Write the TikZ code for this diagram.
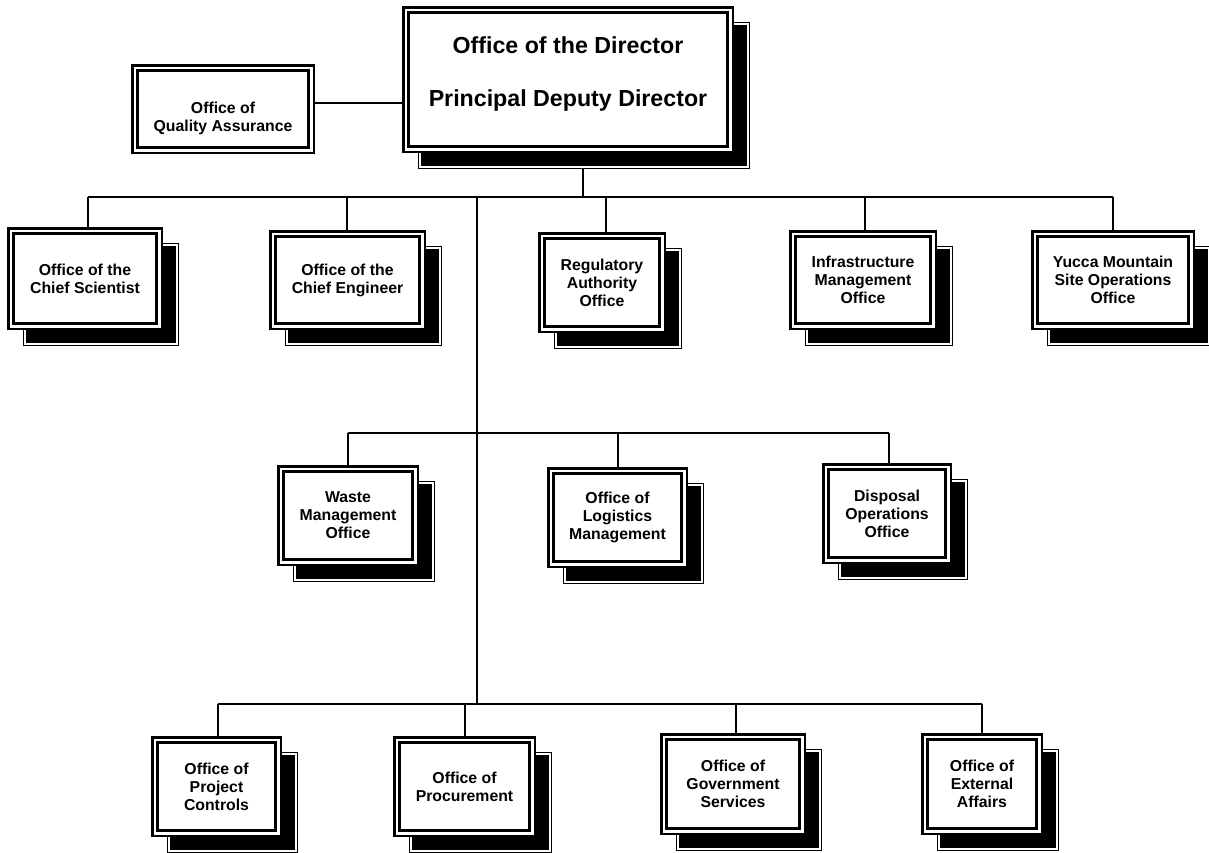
\documentclass[tikz,border=0pt]{standalone}
\usepackage{fontspec}
\setmainfont{Liberation Sans}
\usetikzlibrary{backgrounds}
\tikzset{
  orgbox/.style={draw, line width=2.5pt, fill=white, outer sep=0pt, inner sep=0pt, align=center, font=\bfseries\fontsize{15.8}{18}\selectfont},
  innerframe/.style={draw, line width=3.3pt},
  shadowline/.style={draw=white, line width=1.5pt},
  conn/.style={draw, line width=1.8pt},
}
\newcommand\OrgFrame[1]{\draw[innerframe] ([shift={(5.4,5.4)}]#1.north west) rectangle ([shift={(-5.4,-5.4)}]#1.south east);}
\newcommand\OrgShadow[1]{\begin{scope}[on background layer]
  \fill[black] ([shift={(14.75,14.75)}]#1.north west) rectangle ([shift={(17.25,17.25)}]#1.south east);
  \draw[shadowline] ([shift={(16.85,16.85)}]#1.north west) rectangle ([shift={(15.15,15.15)}]#1.south east);
\end{scope}}
\newcommand\OrgBox[5]{\node[orgbox, minimum width=#3pt, minimum height=#4pt] (#1) at #2 {#5};
  \OrgFrame{#1}\OrgShadow{#1}}
\begin{document}
\begin{tikzpicture}[x=1pt,y=-1pt]
\useasboundingbox (0,0) rectangle (1209,852);

% Director
\node[orgbox, minimum width=329.5pt, minimum height=144.5pt, font=\bfseries\fontsize{23.2}{27.8}\selectfont] (dir) at (568,79.5)
  {\raisebox{5.3pt}[\height][\depth]{\begin{tabular}{@{}c@{}}Office of the Director\\[25.2pt]Principal Deputy Director\end{tabular}}};
\OrgFrame{dir}\OrgShadow{dir}

% Quality Assurance (no shadow)
\node[orgbox, minimum width=181.5pt, minimum height=87.5pt] (qa) at (223,109)
  {\raisebox{-9.4pt}[\height][\depth]{\begin{tabular}{@{}c@{}}Office of\\Quality Assurance\end{tabular}}};
\OrgFrame{qa}

% Level 1
\OrgBox{cs}{(85,278.5)}{153.5}{100.5}{Office of the\\Chief Scientist}
\OrgBox{ce}{(347.5,280)}{154.5}{97.5}{Office of the\\Chief Engineer}
\OrgBox{ra}{(602,282.5)}{125.5}{98.5}{Regulatory\\Authority\\Office}
\OrgBox{im}{(863,280)}{145.5}{97.5}{Infrastructure\\Management\\Office}
\OrgBox{ym}{(1113,280)}{161.5}{97.5}{Yucca Mountain\\Site Operations\\Office}

% Level 2
\OrgBox{wm}{(348,515.5)}{139.5}{98.5}{Waste\\Management\\Office}
\OrgBox{lm}{(617.5,517.5)}{138.5}{98.5}{Office of\\Logistics\\Management}
\OrgBox{do}{(887,513.5)}{127.5}{98.5}{Disposal\\Operations\\Office}

% Level 3
\OrgBox{pc}{(216.5,786.5)}{128.5}{98.5}{Office of\\Project\\Controls}
\OrgBox{pr}{(464.5,786.5)}{140.5}{98.5}{Office of\\Procurement}
\OrgBox{gs}{(733,784)}{143.5}{99.5}{Office of\\Government\\Services}
\OrgBox{ea}{(982,784)}{119.5}{99.5}{Office of\\External\\Affairs}

% Connectors
\coordinate (dirshadow) at ([shift={(15,17.25)}]dir.south);
\coordinate (bus1) at (477,197);
\coordinate (bus2) at (477,433);
\coordinate (bus3) at (477,704);
\coordinate (qaE) at ([yshift=6pt]qa.east);

\draw[conn] (qaE) -- (qaE -| dir.west);
\draw[conn] (dirshadow) -- (dirshadow |- bus1);
\draw[conn] ([xshift=3pt]cs.north |- bus1) -- (ym.north |- bus1);
\draw[conn] ([xshift=3pt]cs.north) -- ([xshift=3pt]cs.north |- bus1);
\draw[conn] ([xshift=-0.5pt]ce.north) -- ([xshift=-0.5pt]ce.north |- bus1);
\draw[conn] ([xshift=4pt]ra.north) -- ([xshift=4pt]ra.north |- bus1);
\draw[conn] ([xshift=2pt]im.north) -- ([xshift=2pt]im.north |- bus1);
\draw[conn] (ym.north) -- (ym.north |- bus1);

\draw[conn] (bus1) -- (bus3);

\draw[conn] (wm.north |- bus2) -- ([xshift=2pt]do.north |- bus2);
\draw[conn] (wm.north) -- (wm.north |- bus2);
\draw[conn] ([xshift=0.5pt]lm.north) -- ([xshift=0.5pt]lm.north |- bus2);
\draw[conn] ([xshift=2pt]do.north) -- ([xshift=2pt]do.north |- bus2);

\draw[conn] ([xshift=1.5pt]pc.north |- bus3) -- (ea.north |- bus3);
\draw[conn] ([xshift=1.5pt]pc.north) -- ([xshift=1.5pt]pc.north |- bus3);
\draw[conn] ([xshift=0.5pt]pr.north) -- ([xshift=0.5pt]pr.north |- bus3);
\draw[conn] ([xshift=3pt]gs.north) -- ([xshift=3pt]gs.north |- bus3);
\draw[conn] (ea.north) -- (ea.north |- bus3);
\end{tikzpicture}
\end{document}
